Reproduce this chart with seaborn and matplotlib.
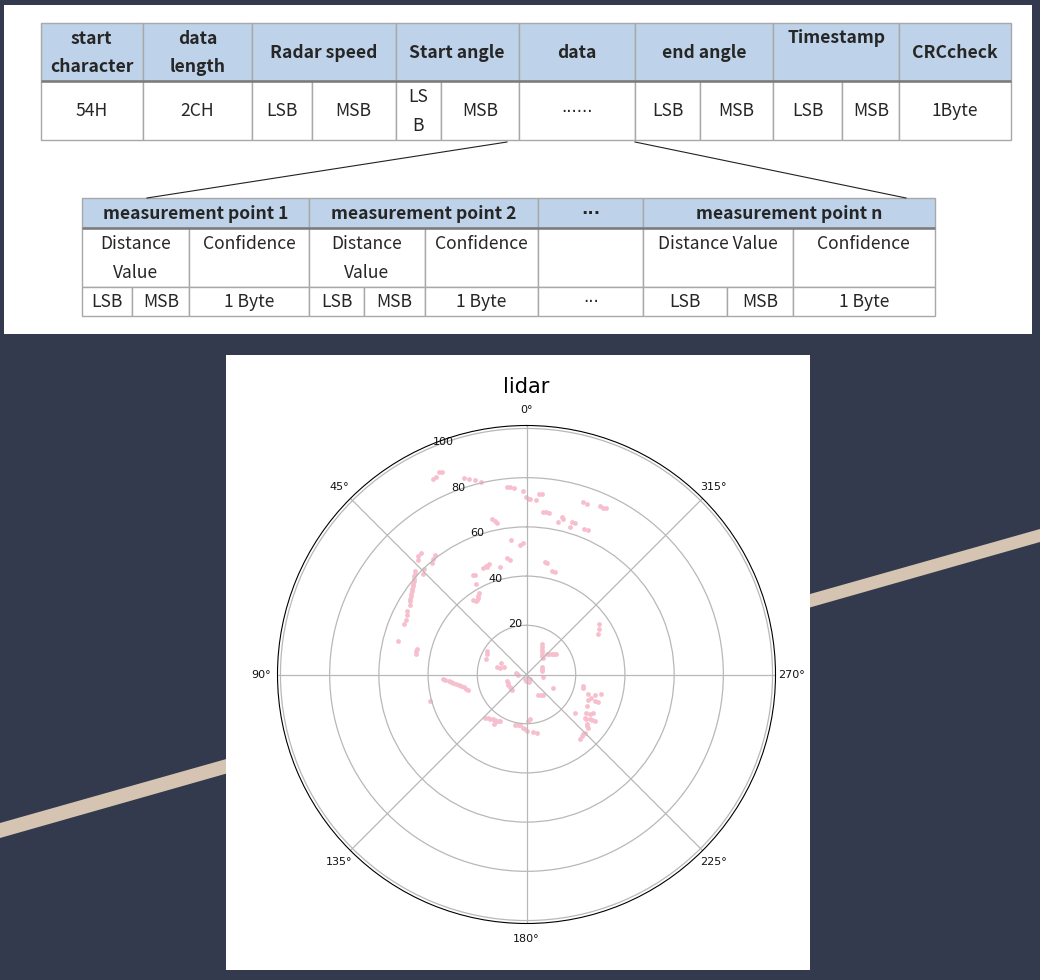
import numpy as np
import pandas as pd
import seaborn as sns
import matplotlib
matplotlib.use("Agg")
import matplotlib.pyplot as plt
from matplotlib.patches import Polygon, Rectangle

plt.rcParams['font.family'] = ['Noto Sans CJK SC', 'DejaVu Sans']

# lidar returns: metres to the left of / ahead of the sensor
left_far = [35.7, 34.4, 36.7, 37.8, 25.6, 23.2, 20.9, 18.6, 8.0, 6.7, 5.1, 1.6, 0.3, -1.0, -1.4, -3.7, -5.2, -6.1,
            -6.6, -7.9, -9.3, -14.3, -15.0, -12.9, -17.6, -18.6, -19.7, -23.0, -24.7, -29.8, -30.9, -32.2, -23.3, -25.1,
            14.0, 13.0, 12.1]
ahead_far = [82.2, 82.2, 80.4, 79.5, 79.7, 79.6, 79.2, 78.2, 76.4, 76.1, 75.7, 74.7, 72.2, 71.4, 71.5, 70.9, 73.4, 73.5,
             66.2, 66.1, 65.5, 63.9, 63.1, 62.0, 60.1, 61.8, 61.4, 70.0, 69.2, 68.5, 67.8, 67.6, 59.2, 58.8,
             63.1, 62.3, 61.4]

left_wall = [37.1, 37.8, 38.4, 42.9, 43.9, 43.9, 45.2, 45.4, 45.6, 45.8, 45.9, 46.1, 46.3, 46.5, 46.7, 46.9, 47.1, 47.3,
             47.4, 47.5, 42.2, 41.8, 48.6, 48.6, 49.0, 49.7, 52.4, 44.5, 44.8, 44.9]
ahead_wall = [48.5, 46.9, 45.3, 49.3, 48.0, 46.6, 41.9, 40.9, 39.9, 38.8, 37.8, 36.8, 35.8, 34.8, 33.8, 32.8, 31.8, 30.8,
              29.7, 28.4, 40.9, 42.8, 25.7, 24.1, 22.3, 20.4, 13.6, 10.5, 9.5, 8.5]

left_mid = [6.4, 2.6, 1.6, 8.0, 6.7, 15.2, 16.1, 17.5, 16.6, 10.7, 21.6, 20.8, 20.5, 19.5, 19.9, 20.2, 21.6, 19.6, 20.6,
            -7.5, -8.4, -10.5, -11.6, -29.5, -29.4, -29.0]
ahead_mid = [54.5, 52.7, 53.6, 47.3, 46.6, 45.0, 43.6, 43.1, 44.2, 43.6, 40.3, 40.3, 36.6, 33.1, 31.8, 30.4, 30.1, 31.0, 29.9,
             45.8, 45.4, 42.0, 41.6, 20.7, 18.5, 16.6]

left_near = [16.1, 15.9, 16.6, 10.3, 11.8, 9.1, 10.7, 4.3, 3.3, 3.8, -0.3, 0.6, -0.7, -1.4, 0.2, -1.0,
             8.0, 7.7, 7.4, 6.9, 6.4, 6.0,
             -6.3, -6.3, -6.3, -6.3, -6.3, -6.3, -6.6, -8.2, -9.2, -10.2, -11.1, -12.0, -6.3, -6.3, -6.4, -6.8,
             -4.8, -5.8, -6.8, -10.9, -1.4, -0.7]
ahead_near = [9.5, 8.4, 6.5, 4.5, 3.1, 3.0, 2.6, 0.7, -0.1, 0.3, -1.4, -2.0, -2.3, -1.8, -2.7, -2.9,
              -2.7, -3.4, -4.1, -5.0, -5.8, -6.4,
              12.2, 11.2, 10.1, 9.1, 8.1, 7.5, 6.8, 8.5, 8.5, 8.5, 8.5, 8.5, 3.1, 2.2, 1.4, -0.9,
              -8.5, -8.4, -8.4, -5.4, -18.2, -19.1]

left_right_side = [-23.0, -22.8, -25.1, -26.4, -24.8, -27.8, -29.1, -28.0, -30.2, -24.4, -24.1, -19.8, -26.0, -27.1,
                   -23.7, -25.7, -27.8, -24.4, -24.8, -23.7, -22.6, -21.7, -24.0, -23.1, -24.7, -26.8]
ahead_right_side = [-4.7, -5.4, -7.8, -9.7, -10.5, -10.8, -11.1, -8.5, -8.1, -12.6, -15.5, -15.5, -16.2, -15.5,
                    -17.8, -18.2, -18.8, -20.3, -21.9, -23.6, -25.0, -26.1, -18.0, -24.3, -21.1, -18.5]

left_low = [34.0, 33.0, 31.7, 30.7, 29.7, 28.6, 27.6, 26.6, 25.6, 24.7, 23.9, 39.1,
            16.8, 15.8, 14.8, 13.8, 12.8, 10.7, 13.2, 13.0, 4.7, 3.6, 2.6, 1.3, 0.5, -0.3, -2.8, -4.4, 11.7]
ahead_low = [-1.8, -2.2, -2.7, -3.0, -3.4, -3.8, -4.1, -4.5, -5.0, -5.7, -6.4, -10.9,
             -17.6, -17.8, -18.0, -18.2, -18.5, -18.9, -20.3, -19.4, -20.4, -20.5, -20.7, -21.6, -22.3, -23.0, -23.4, -23.9, -18.7]

r_ticks = [20, 40, 60, 80, 100]

# frame table
top_headers = ["start\ncharacter", "data\nlength", "Radar speed", "Start angle", "data", "end angle", "Timestamp", "CRCcheck"]
top_edges = [40.5, 142.7, 252.3, 395.7, 518.7, 635, 773, 899.3, 1010.7]
top_cells = ["54H", "2CH", "LSB", "MSB", "LS\nB", "MSB", "······", "LSB", "MSB", "LSB", "MSB", "1Byte"]
top_cell_edges = [40.5, 142.7, 252.3, 311.7, 395.7, 441.3, 518.7, 635, 700.3, 773, 842.3, 899.3, 1010.7]

# measurement point table
low_headers = ["measurement point 1", "measurement point 2", "···", "measurement point n"]
low_edges = [81.7, 309, 538.3, 643.3, 934.7]
mid_cells = ["Distance\nValue", "Confidence", "Distance\nValue", "Confidence", "", "Distance Value", "Confidence"]
mid_edges = [81.7, 189.3, 309, 424.7, 538.3, 643.3, 792.7, 934.7]
low_cells = ["LSB", "MSB", "1 Byte", "LSB", "MSB", "1 Byte", "···", "LSB", "MSB", "1 Byte"]
low_cell_edges = [81.7, 132.3, 189.3, 309, 364, 424.7, 538.3, 643.3, 727.3, 792.7, 934.7]

BG = "#333a4d"
STRIPE = "#d5c4b1"
HEAD = "#bed3e9"
BORDER = "#a8a8a8"
RULE = "#7a7a7a"
INK = "#262626"

fig = plt.figure(figsize=(10.4, 9.8), dpi=100, facecolor=BG)

# whole-figure axes in pixels for the backdrop and the two tables
ax = fig.add_axes([0, 0, 1, 1])
ax.set_xlim(0, 1040)
ax.set_ylim(980, 0)
ax.axis("off")

ax.add_patch(Polygon([(0, 823), (1040, 529), (1040, 542), (0, 838)], color=STRIPE, lw=0))
ax.add_patch(Rectangle((4, 5), 1028, 329, color="white", lw=0))
ax.add_patch(Rectangle((226, 355), 584, 615, color="white", lw=0))


def draw_row(labels, edges, y0, y1, fill="white", weight="normal", text_y=None, size=12.6):
    for i, label in enumerate(labels):
        x0, x1 = edges[i], edges[i + 1]
        ax.add_patch(Rectangle((x0, y0), x1 - x0, y1 - y0, facecolor=fill, edgecolor=BORDER, lw=1.0))
        ypos = (y0 + y1) / 2 if text_y is None or text_y[i] is None else text_y[i]
        # the CJK face has full-width dots, so the dotted cells use DejaVu
        family = ["DejaVu Sans"] if set(label) == {"·"} else None
        ax.text((x0 + x1) / 2, ypos + 1.0, label, ha="center", va="center", fontsize=12 if family else size,
                fontweight=weight, color=INK, linespacing=1.74, family=family)


draw_row(top_headers, top_edges, 22.7, 81, HEAD, "bold", [None] * 6 + [37, None])
draw_row(top_cells, top_cell_edges, 81, 140)
ax.plot([40.5, 1010.7], [81, 81], color=RULE, lw=1.8, solid_capstyle="butt")

draw_row(low_headers, low_edges, 197.7, 228.3, HEAD, "bold")
draw_row(mid_cells, mid_edges, 228.3, 286.7, text_y=[None, 243, None, 243, None, 243, 243])
draw_row(low_cells, low_cell_edges, 286.7, 316)
ax.plot([81.7, 934.7], [228.3, 228.3], color=RULE, lw=1.8, solid_capstyle="butt")

ax.plot([507, 147], [142, 198], color="#222222", lw=0.8)
ax.plot([635, 906], [142, 198], color="#222222", lw=0.8)

# the lidar scan
left = np.array(left_far + left_wall + left_mid + left_near + left_right_side + left_low)
ahead = np.array(ahead_far + ahead_wall + ahead_mid + ahead_near + ahead_right_side + ahead_low)
scan = pd.DataFrame({"theta": np.arctan2(left, ahead), "r": np.hypot(left, ahead)})

cx, cy, rad = 526.5, 674.5, 249
ax_polar = fig.add_axes([(cx - rad) / 1040, 1 - (cy + rad) / 980, 2 * rad / 1040, 2 * rad / 980],
                        projection="polar", zorder=2)
sns.scatterplot(data=scan, x="theta", y="r", ax=ax_polar, color="#f7bfcd", s=12, linewidth=0)
ax_polar.set_theta_zero_location("N")
ax_polar.set_ylim(0, 101.2)
ax_polar.set_yticks(r_ticks)
ax_polar.set_xlabel("")
ax_polar.set_ylabel("")
ax_polar.grid(True, color="#b8b8b8", lw=0.9)
ax_polar.tick_params(labelsize=8, labelcolor="#111111", pad=1)
for lab in ax_polar.get_xticklabels() + ax_polar.get_yticklabels():
    lab.set_family("DejaVu Sans")
ax_polar.set_title("lidar", fontsize=15, family="DejaVu Sans", pad=8)

fig.savefig("out.png", dpi=100, facecolor=BG)
